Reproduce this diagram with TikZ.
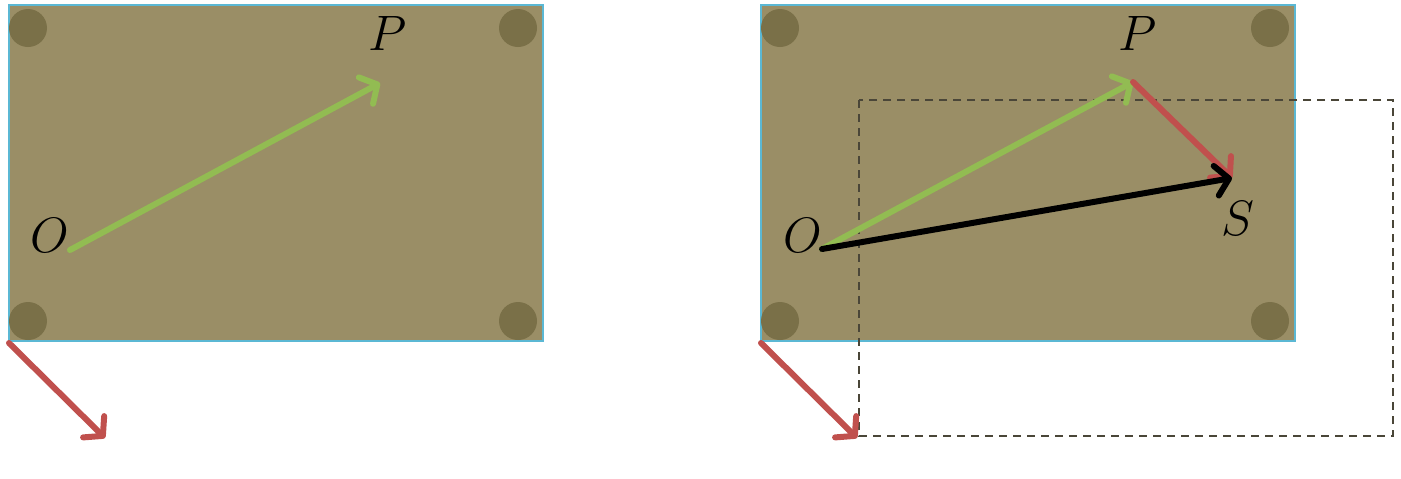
\documentclass[tikz,border=0pt]{standalone}
\usetikzlibrary{arrows.meta}
\definecolor{board}{HTML}{9A8E66}
\definecolor{dot}{HTML}{7A7048}
\definecolor{edge}{HTML}{5BB8D4}
\definecolor{vgreen}{HTML}{92BC52}
\definecolor{vred}{HTML}{C0504D}
\definecolor{dashc}{HTML}{4A4638}
\tikzset{
  panel/.style={draw=edge,line width=0.6pt,fill=board},
  hole/.style={fill=dot,draw=none},
  vec/.style={line width=3pt,line cap=round,-{Straight Barb[length=6.5pt,width=15pt,round,line width=3pt]}},
  lbl/.style={font=\fontsize{25}{30}\selectfont,inner sep=0pt},
  ghost/.style={draw=dashc,dashed,dash pattern=on 4pt off 3pt,line width=0.6pt}
}
\begin{document}
\begin{tikzpicture}[x=0.5pt,y=-0.5pt]
\useasboundingbox (0,0) rectangle (1401,478);
% left panel
\draw[panel] (9,5) rectangle (543,341);
\foreach \p in {(28,28),(518,28),(28,321),(518,321)} \fill[hole] \p circle (19);
\coordinate (O1) at (70,250);
\coordinate (P1) at (380,83);
\coordinate (c1) at (9,343);
\coordinate (d1) at (105,438);
\node[lbl] (lO1) at (50,235) {$O$};
\node[lbl] (lP1) at (388,33) {$P$};
\draw[vec,vgreen] (O1) -- (P1);
\draw[vec,vred] (c1) -- (d1);
% right panel
\draw[panel] (761,5) rectangle (1295,341);
\foreach \p in {(780,28),(1270,28),(780,321),(1270,321)} \fill[hole] \p circle (19);
\coordinate (O2) at (822,249);
\coordinate (P2) at (1133,82);
\coordinate (S2) at (1232,178);
\coordinate (c2) at (761,343);
\coordinate (d2) at (857,438);
\draw[ghost] (859,100) rectangle (1393,436);
\node[lbl] (lO2) at (803,235) {$O$};
\node[lbl] (lP2) at (1138,33) {$P$};
\node[lbl] (lS2) at (1238,218) {$S$};
\draw[vec,vgreen] (O2) -- (P2);
\draw[vec,vred] (P2) -- (S2);
\draw[vec,black] (O2) -- (S2);
\draw[vec,vred] (c2) -- (d2);
\end{tikzpicture}
\end{document}
